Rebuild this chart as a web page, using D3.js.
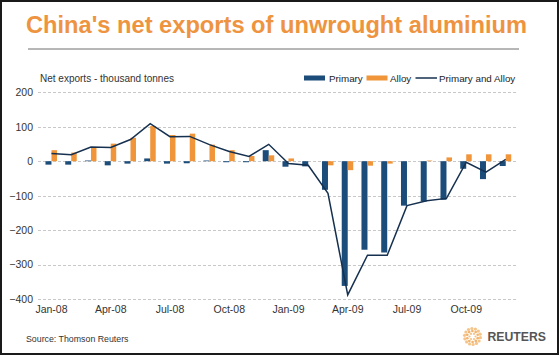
<!DOCTYPE html>
<html><head><meta charset="utf-8">
<script src="https://cdn.jsdelivr.net/npm/d3@7"></script>
<style>
html,body{margin:0;padding:0;background:#fff;}
svg{display:block;font-family:"Liberation Sans",Arial,sans-serif;}
</style></head>
<body>
<svg id="chart" width="560" height="356"></svg>
<script>
const months = ["Jan-08","Feb-08","Mar-08","Apr-08","May-08","Jun-08","Jul-08","Aug-08","Sep-08","Oct-08","Nov-08","Dec-08",
                "Jan-09","Feb-09","Mar-09","Apr-09","May-09","Jun-09","Jul-09","Aug-09","Sep-09","Oct-09","Nov-09","Dec-09"];
const primary = [-10,-10,2,-12,-7,8,-7,-6,2,-3,-3,32,-16,-15,-83,-362,-257,-265,-129,-117,-112,-22,-52,-14];
const alloy   = [32,25,40,51,68,102,76,80,48,32,15,17,8,0,-12,-26,-13,-7,0,2,11,20,20,20];
const total   = [22,19,41,40,63,109,71,72,48,28,14,49,-7,-12,-93,-388,-273,-273,-129,-115,-108,-3,-32,5];
const yTicks = [200,100,0,-100,-200,-300,-400];
const xTickLabels = ["Jan-08","Apr-08","Jul-08","Oct-08","Jan-09","Apr-09","Jul-09","Oct-09"];

const C_PRIMARY = "#1c4d7a", C_ALLOY = "#f0953a", C_LINE = "#16304f";
const svg = d3.select("#chart");

// frame
svg.append("rect").attr("x",1).attr("y",1).attr("width",557).attr("height",353)
  .attr("fill","#fff").attr("stroke","#1a1a1a").attr("stroke-width",2);

// title
svg.append("text").attr("x",26).attr("y",33).attr("font-size",23.5).attr("font-weight","bold")
  .attr("fill","#ee9440").attr("textLength",501).attr("lengthAdjust","spacingAndGlyphs")
  .text("China's net exports of unwrought aluminium");
svg.append("line").attr("x1",28).attr("x2",519).attr("y1",49).attr("y2",49)
  .attr("stroke","#6e6e6e").attr("stroke-width",1);

const x = d3.scaleBand().domain(months).range([41.6,515.6]);
const y = d3.scaleLinear().domain([-400,200]).range([299,92.3]);
const bw = 6;

// gridlines
svg.append("g").selectAll("line").data(yTicks).join("line")
  .attr("x1",38).attr("x2",517).attr("y1",d=>Math.round(y(d))+0.5).attr("y2",d=>Math.round(y(d))+0.5)
  .attr("stroke","#c8c8c8").attr("stroke-dasharray","3,2").attr("stroke-width",1);

// y axis labels
const yAxis = d3.axisLeft(y).tickValues(yTicks).tickSize(0).tickPadding(0).tickFormat(d3.format("d"));
const gy = svg.append("g").attr("transform","translate(33,0)").call(yAxis);
gy.select(".domain").remove();
gy.selectAll("text").attr("font-size",10.5).attr("fill","#333").attr("font-family","Liberation Sans, Arial, sans-serif");

// x axis labels
const xAxis = d3.axisBottom(x).tickValues(xTickLabels).tickSize(0).tickPadding(0);
const gx = svg.append("g").attr("transform","translate(0,306)").call(xAxis);
gx.select(".domain").remove();
gx.selectAll("text").attr("font-size",10.5).attr("fill","#333").attr("font-family","Liberation Sans, Arial, sans-serif");

const cx = m => x(m) + x.bandwidth()/2;

// bars
svg.append("g").selectAll("rect").data(months).join("rect")
  .attr("x",(m)=>cx(m)-bw).attr("width",bw)
  .attr("y",(m,i)=>y(Math.max(0,primary[i]))).attr("height",(m,i)=>Math.abs(y(primary[i])-y(0)))
  .attr("fill",C_PRIMARY);
svg.append("g").selectAll("rect").data(months).join("rect")
  .attr("x",(m)=>cx(m)).attr("width",bw-0.5)
  .attr("y",(m,i)=>y(Math.max(0,alloy[i]))).attr("height",(m,i)=>Math.abs(y(alloy[i])-y(0)))
  .attr("fill",C_ALLOY);

// line
const line = d3.line().x((d,i)=>cx(months[i])).y(d=>y(d));
svg.append("path").datum(total).attr("d",line).attr("fill","none")
  .attr("stroke",C_LINE).attr("stroke-width",1.5).attr("stroke-linejoin","miter");

// axis title
svg.append("text").attr("x",40).attr("y",81.5).attr("font-size",10).attr("fill","#333").text("Net exports -  thousand tonnes");

// legend
const lg = svg.append("g").attr("font-size",9.8).attr("fill","#222");
lg.append("rect").attr("x",304).attr("y",75.5).attr("width",21).attr("height",5).attr("fill",C_PRIMARY);
lg.append("text").attr("x",329).attr("y",81.5).text("Primary");
lg.append("rect").attr("x",366.5).attr("y",75.5).attr("width",21).attr("height",5).attr("fill",C_ALLOY);
lg.append("text").attr("x",390).attr("y",81.5).text("Alloy");
lg.append("line").attr("x1",415.5).attr("x2",437).attr("y1",78).attr("y2",78).attr("stroke",C_LINE).attr("stroke-width",1.5);
lg.append("text").attr("x",439).attr("y",81.5).text("Primary and Alloy");

// source
svg.append("text").attr("x",26).attr("y",341.5).attr("font-size",8.8).attr("fill","#333").text("Source: Thomson Reuters");

// Reuters logo
const logo = svg.append("g").attr("transform","translate(472.5,336.5)");
const rings = [[3,6],[5.5,10],[8,14]];
rings.forEach(([r,n],k)=>{
  d3.range(n).forEach(j=>{
    const a = j/n*2*Math.PI + k*0.3;
    logo.append("circle").attr("cx",r*Math.cos(a)).attr("cy",r*Math.sin(a))
      .attr("r",1.1+k*0.25).attr("fill",k===1?"#f2b36b":"#f5c48a");
  });
});
svg.append("text").attr("x",487.5).attr("y",341).attr("font-size",12.5).attr("font-weight","bold")
  .attr("fill","#555").attr("textLength",58.5).attr("lengthAdjust","spacingAndGlyphs").text("REUTERS");
</script>
</body></html>
